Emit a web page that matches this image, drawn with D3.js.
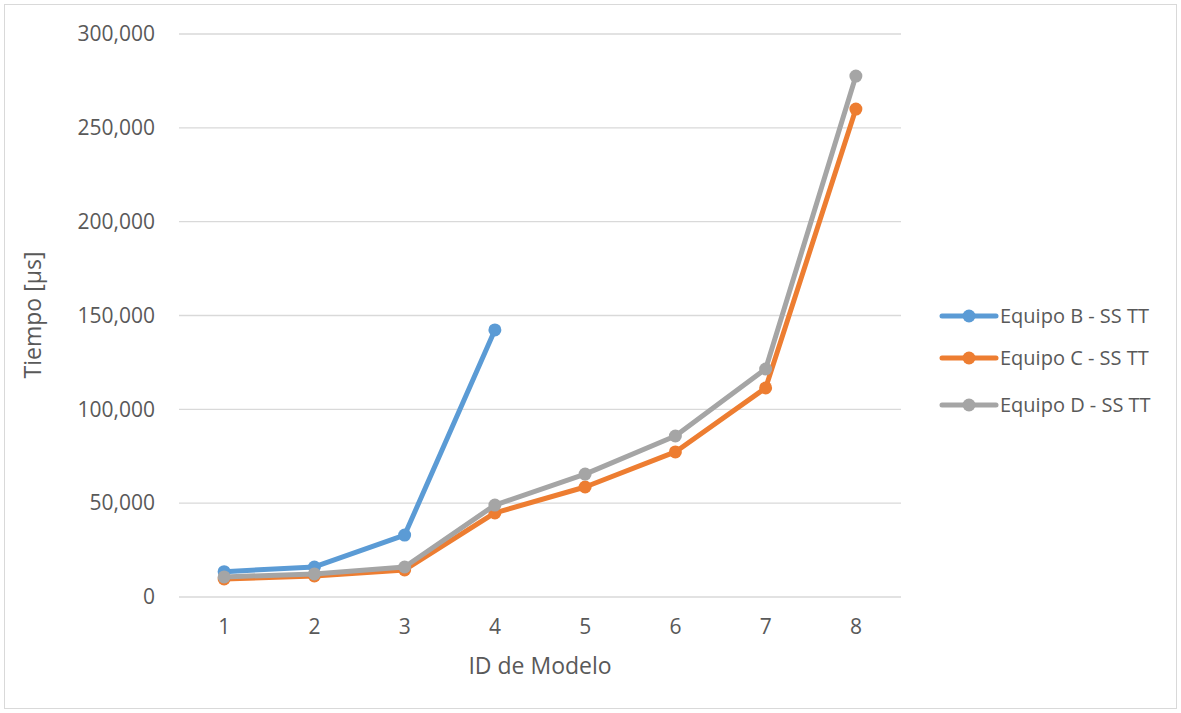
<!DOCTYPE html>
<html><head><meta charset="utf-8">
<script src="https://cdn.jsdelivr.net/npm/d3@7"></script>
<style>body{margin:0;background:#fff;font-family:"Open Sans","Noto Sans",sans-serif;}</style>
</head><body><svg id="c" width="1181" height="713"></svg>
<script>
const categories = [1,2,3,4,5,6,7,8];
const equipoB = [13500, 16000, 33000, 142300, null, null, null, null];
const equipoC = [9600, 11200, 14400, 44800, 58600, 77300, 111400, 260000];
const equipoD = [10700, 12300, 16000, 49000, 65500, 85800, 121500, 277600];
const seriesNames = ["Equipo B - SS TT","Equipo C - SS TT","Equipo D - SS TT"];
const seriesColors = ["#5B9BD5","#ED7D31","#A5A5A5"];
const yTicks = [0,50000,100000,150000,200000,250000,300000];

const svg = d3.select("#c");
svg.append("rect").attr("x",4.5).attr("y",4.5).attr("width",1172).attr("height",704)
  .attr("fill","#fff").attr("stroke","#d9d9d9");
const L=179,R=901,T=34,B=597;
const x = d3.scaleBand().domain(categories).range([L,R]);
const y = d3.scaleLinear().domain([0,300000]).range([B,T]);
const fmt = d3.format(",");
const tc="#595959";
svg.append("g").selectAll("line").data(yTicks).join("line")
  .attr("x1",L).attr("x2",R).attr("y1",d=>y(d)).attr("y2",d=>y(d))
  .attr("stroke","#d9d9d9").attr("stroke-width",1.3);
const ya = svg.append("g").attr("transform",`translate(${L},0)`)
  .call(d3.axisLeft(y).tickValues(yTicks).tickFormat(fmt).tickSize(0).tickPadding(24));
ya.select(".domain").remove();
ya.selectAll("text").attr("fill",tc).style("font-size","21px").style("font-family","Open Sans");
const xa = svg.append("g").attr("transform",`translate(0,${B})`)
  .call(d3.axisBottom(x).tickSize(0).tickPadding(22));
xa.select(".domain").remove();
xa.selectAll("text").attr("fill",tc).style("font-size","21px").style("font-family","Open Sans");
svg.append("text").attr("x",540).attr("y",666).attr("dy","0.35em").attr("text-anchor","middle").attr("fill",tc)
  .style("font-size","23px").text("ID de Modelo");
svg.append("text").attr("transform","translate(33,315) rotate(-90)").attr("dy","0.35em").attr("text-anchor","middle").attr("fill",tc)
  .style("font-size","23px").text("Tiempo [µs]");
const data = [equipoB,equipoC,equipoD];
const cx = d=>x(d)+x.bandwidth()/2;
data.forEach((vals,i)=>{
  const pts = categories.map((c,j)=>({c,v:vals[j]})).filter(p=>p.v!=null);
  const line = d3.line().x(p=>cx(p.c)).y(p=>y(p.v));
  svg.append("path").datum(pts).attr("d",line).attr("fill","none")
    .attr("stroke",seriesColors[i]).attr("stroke-width",5).attr("stroke-linejoin","round").attr("stroke-linecap","round");
  svg.append("g").selectAll("circle").data(pts).join("circle")
    .attr("cx",p=>cx(p.c)).attr("cy",p=>y(p.v)).attr("r",6.5).attr("fill",seriesColors[i]);
});
const ly=[316,358,405];
seriesNames.forEach((n,i)=>{
  const g=svg.append("g");
  g.append("line").attr("x1",942).attr("x2",996).attr("y1",ly[i]).attr("y2",ly[i])
    .attr("stroke",seriesColors[i]).attr("stroke-width",5).attr("stroke-linecap","round");
  g.append("circle").attr("cx",969).attr("cy",ly[i]).attr("r",6.5).attr("fill",seriesColors[i]);
  g.append("text").attr("x",1000).attr("y",ly[i]).attr("dy","0.35em").attr("fill",tc)
    .style("font-size","20px").text(n);
});
</script></body></html>
